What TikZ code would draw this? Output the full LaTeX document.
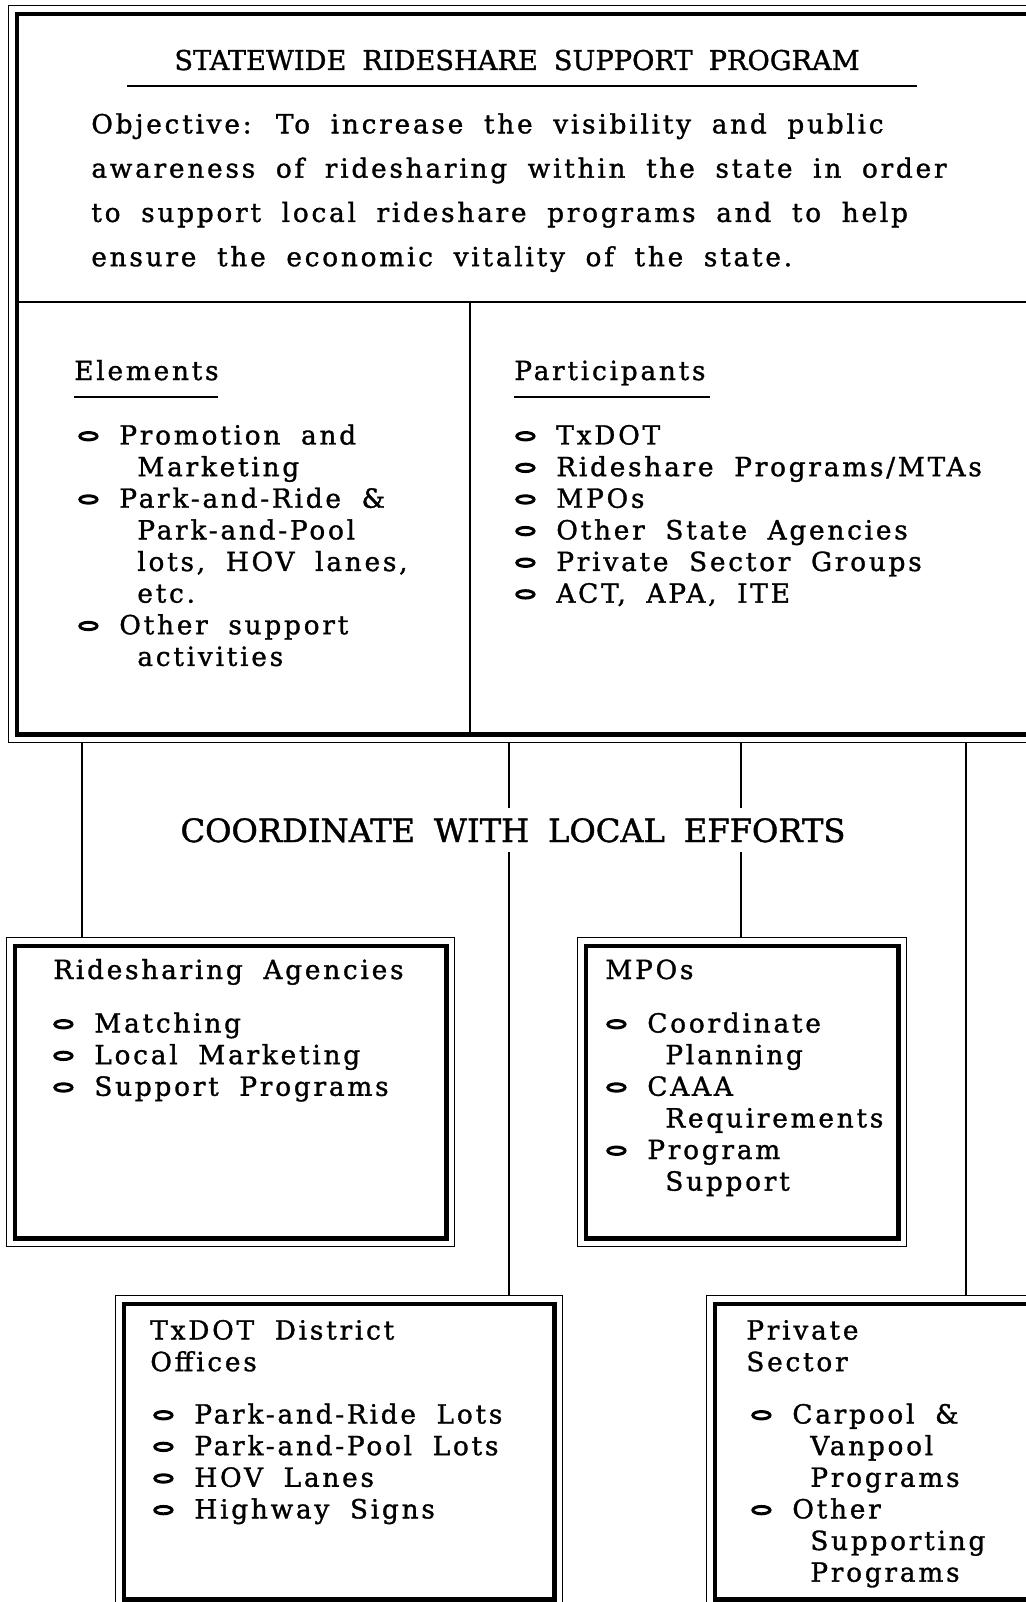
\documentclass[tikz,border=0pt]{standalone}
\usepackage{fontspec}
\setmainfont{DejaVu Serif}[LetterSpace=10.5, WordSpace=1.85, FakeBold=1.2]
\newfontfamily\capsfont{DejaVu Serif}[LetterSpace=0, WordSpace=1.85, FakeBold=1.2]
\usepackage{tikz}
\usetikzlibrary{positioning}
\newlength{\px}
\setlength{\px}{0.02cm}
\newcommand{\bul}{\makebox[41\px][l]{\tikz[baseline=-4.7pt]\draw[line width=1.7pt] (0,0) ellipse (4.9pt and 2.1pt);}}
\newcommand{\wrapind}{\hspace*{59\px}}

\begin{document}
\begin{tikzpicture}[
  x=0.02cm, y=-0.02cm,
  boxframe/.style={draw, line width=0.75pt, inner sep=0pt, anchor=north west},
  heavy/.style={line width=2.6pt},
  rule/.style={line width=0.75pt},
  link/.style={line width=0.7pt},
  bodytext/.style={font=\fontsize{15}{18}\selectfont, inner sep=0pt},
  listtext/.style={bodytext, align=left, anchor=north west},
  headtext/.style={bodytext, anchor=base west},
  bigtext/.style={font=\capsfont\fontsize{18.3}{22}\selectfont, inner sep=0pt}
]
  \useasboundingbox (0,0) rectangle (1025,1602);

  \node[boxframe, minimum width=1037\px, minimum height=737\px] (program) at (8,5) {};
  \node[boxframe, minimum width=448\px, minimum height=309\px] (agencies) at (6,937) {};
  \node[boxframe, minimum width=329\px, minimum height=309\px] (mpos) at (577,937) {};
  \node[boxframe, minimum width=447\px, minimum height=312\px] (txdot) at (115,1295) {};
  \node[boxframe, minimum width=339\px, minimum height=312\px] (private) at (706,1295) {};

  \foreach \n in {program,agencies,mpos,txdot,private}
    \draw[heavy] ([shift={(9,9)}]\n.north west) rectangle ([shift={(-9,-9)}]\n.south east);

  \node[bodytext, font=\capsfont\fontsize{15.5}{18}\selectfont, anchor=base] (title) at (517,70)
    {STATEWIDE RIDESHARE SUPPORT PROGRAM};
  \draw[rule] (127,86) -- (917,86);
  \node[listtext, font=\fontsize{15}{25.2}\selectfont] (objective) at (91,102)
    {\strut Objective: To increase the visibility and public\\
     awareness of ridesharing within the state in order\\
     to support local rideshare programs and to help\\
     ensure the economic vitality of the state.};

  \draw[rule] (17,302) -- (1045,302);
  \draw[rule] (470,302) -- (470,733);

  \node[headtext] (elemhead) at (74,380) {Elements};
  \draw[rule] (74,397) -- (218,397);
  \node[listtext] (elements) at (78,422)
    {\strut\bul Promotion and\\
     \wrapind Marketing\\
     \bul Park-and-Ride \&\\
     \wrapind Park-and-Pool\\
     \wrapind lots, HOV lanes,\\
     \wrapind etc.\\
     \bul Other support\\
     \wrapind activities};

  \node[headtext] (parthead) at (514,380) {Participants};
  \draw[rule] (514,397) -- (710,397);
  \node[listtext] (participants) at (515,422)
    {\strut\bul TxDOT\\
     \bul Rideshare Programs/MTAs\\
     \bul MPOs\\
     \bul Other State Agencies\\
     \bul Private Sector Groups\\
     \bul ACT, APA, ITE};

  \foreach \n/\dx in {agencies/76, mpos/164, txdot/394, private/260}{
    \coordinate (top) at ([xshift=\dx\px]\n.north west);
    \draw[link] (program.south -| top) -- (top);
  }

  \node[bigtext, fill=white, inner ysep=10\px, anchor=base] (coordinate) at (513,842)
    {COORDINATE WITH LOCAL EFFORTS};

  \node[headtext] (aghead) at (53,979) {Ridesharing Agencies};
  \node[listtext] (aglist) at (53,1010)
    {\strut\bul Matching\\
     \bul Local Marketing\\
     \bul Support Programs};

  \node[headtext] (mphead) at (605,979) {MPOs};
  \node[listtext] (mplist) at (606,1010)
    {\strut\bul Coordinate\\
     \wrapind Planning\\
     \bul CAAA\\
     \wrapind Requirements\\
     \bul Program\\
     \wrapind Support};

  \node[listtext] (txhead) at (150,1317) {\strut TxDOT District\\ Offices};
  \node[listtext] (txlist) at (153,1401)
    {\strut\bul Park-and-Ride Lots\\
     \bul Park-and-Pool Lots\\
     \bul HOV Lanes\\
     \bul Highway Signs};

  \node[listtext] (pshead) at (746,1317) {\strut Private\\ Sector};
  \node[listtext] (pslist) at (751,1401)
    {\strut\bul Carpool \&\\
     \wrapind Vanpool\\
     \wrapind Programs\\
     \bul Other\\
     \wrapind Supporting\\
     \wrapind Programs};
\end{tikzpicture}
\end{document}
